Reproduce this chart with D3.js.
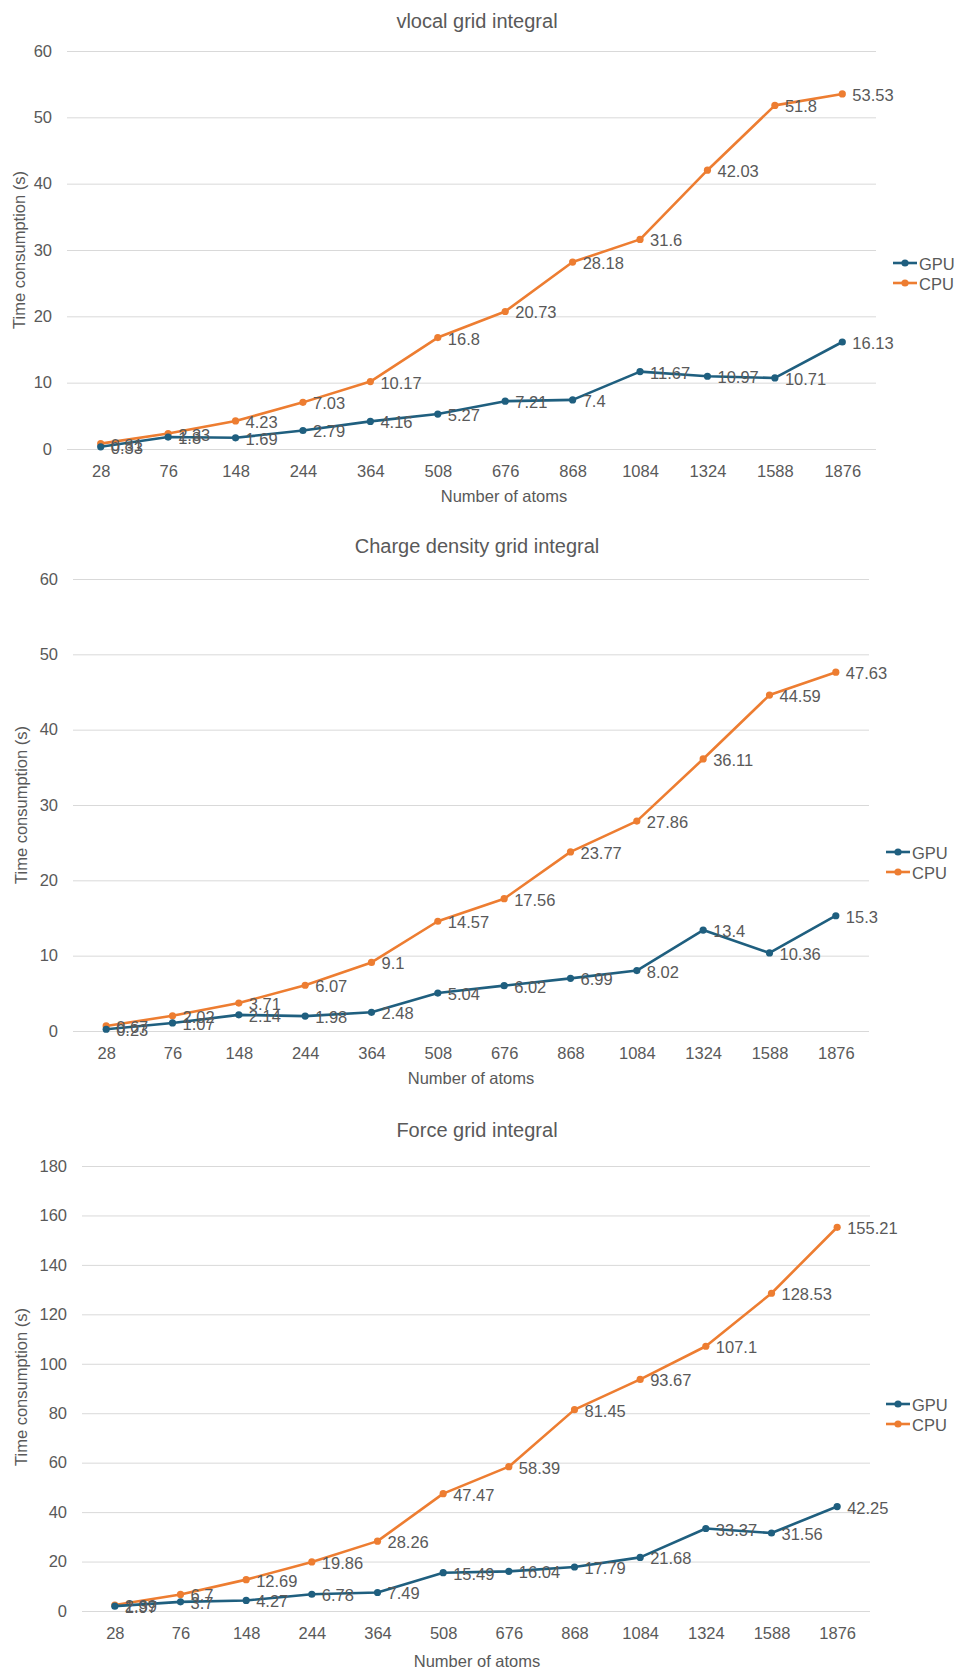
<!DOCTYPE html>
<html>
<head>
<meta charset="utf-8">
<script src="https://cdn.jsdelivr.net/npm/d3@7"></script>
<style>
  body { margin: 0; background: #fff; }
  svg { display: block; font-family: "Liberation Sans", Arial, sans-serif; }
  .axis text { fill: #595959; font-size: 16.5px; }
  .axis .domain { display: none; }
  .y.axis line { stroke: #d9d9d9; }
  .x.axis line { display: none; }
</style>
</head>
<body>
<svg id="chart" width="954" height="1673"></svg>
<script>
const atoms = ["28", "76", "148", "244", "364", "508", "676", "868", "1084", "1324", "1588", "1876"];

const vlocalGpu = [0.33, 1.8, 1.69, 2.79, 4.16, 5.27, 7.21, 7.4, 11.67, 10.97, 10.71, 16.13];
const vlocalCpu = [0.81, 2.33, 4.23, 7.03, 10.17, 16.8, 20.73, 28.18, 31.6, 42.03, 51.8, 53.53];

const chargeGpu = [0.23, 1.07, 2.14, 1.98, 2.48, 5.04, 6.02, 6.99, 8.02, 13.4, 10.36, 15.3];
const chargeCpu = [0.67, 2.02, 3.71, 6.07, 9.1, 14.57, 17.56, 23.77, 27.86, 36.11, 44.59, 47.63];

const forceGpu = [1.97, 3.7, 4.27, 6.78, 7.49, 15.49, 16.04, 17.79, 21.68, 33.37, 31.56, 42.25];
const forceCpu = [2.39, 6.7, 12.69, 19.86, 28.26, 47.47, 58.39, 81.45, 93.67, 107.1, 128.53, 155.21];

const seriesNames = ["GPU", "CPU"];
const colors = { GPU: "#1f5f7f", CPU: "#ed7d31" };

const svg = d3.select("#chart");

function drawChart(cfg) {
    const g = svg.append("g");

    const x = d3.scalePoint()
        .domain(atoms)
        .range([cfg.left, cfg.right])
        .padding(0.5);
    const y = d3.scaleLinear()
        .domain([0, cfg.yMax])
        .range([cfg.bottom, cfg.top]);

    // title
    g.append("text")
        .attr("x", 477)
        .attr("y", cfg.titleY)
        .attr("text-anchor", "middle")
        .attr("dominant-baseline", "central")
        .attr("fill", "#595959")
        .style("font-size", "20px")
        .text(cfg.title);

    // y axis with gridlines
    g.append("g")
        .attr("class", "y axis")
        .attr("transform", "translate(" + cfg.left + ",0)")
        .call(d3.axisLeft(y)
            .tickValues(d3.range(0, cfg.yMax + 1, cfg.step))
            .tickSize(-(cfg.right - cfg.left))
            .tickPadding(15))
        .call(function(a) {
            a.selectAll("line").attr("stroke", function(d) { return d === 0 ? "#bfbfbf" : "#d9d9d9"; });
        });

    // x axis
    g.append("g")
        .attr("class", "x axis")
        .attr("transform", "translate(0," + cfg.bottom + ")")
        .call(d3.axisBottom(x).tickSize(0).tickPadding(16));

    // axis titles
    g.append("text")
        .attr("x", cfg.xTitleX)
        .attr("y", cfg.xTitleY)
        .attr("text-anchor", "middle")
        .attr("dominant-baseline", "central")
        .attr("fill", "#595959")
        .style("font-size", "16.5px")
        .text("Number of atoms");
    g.append("text")
        .attr("transform", "translate(" + cfg.yTitleX + "," + cfg.yTitleY + ") rotate(-90)")
        .attr("text-anchor", "middle")
        .attr("dominant-baseline", "central")
        .attr("fill", "#595959")
        .style("font-size", "16.5px")
        .text("Time consumption (s)");

    const line = d3.line()
        .x(function(d, i) { return x(atoms[i]); })
        .y(function(d) { return y(d); });

    const data = { GPU: cfg.gpu, CPU: cfg.cpu };
    // CPU first so GPU sits on top
    ["CPU", "GPU"].forEach(function(name) {
        const values = data[name];
        g.append("path")
            .datum(values)
            .attr("fill", "none")
            .attr("stroke", colors[name])
            .attr("stroke-width", 2.6)
            .attr("stroke-linejoin", "round")
            .attr("d", line);
        g.selectAll(null)
            .data(values)
            .enter()
            .append("circle")
            .attr("cx", function(d, i) { return x(atoms[i]); })
            .attr("cy", function(d) { return y(d); })
            .attr("r", 3.6)
            .attr("fill", colors[name]);
    });

    ["CPU", "GPU"].forEach(function(name) {
        g.selectAll(null)
            .data(data[name])
            .enter()
            .append("text")
            .attr("x", function(d, i) { return x(atoms[i]) + 10; })
            .attr("y", function(d) { return y(d) + 1; })
            .attr("dominant-baseline", "central")
            .attr("fill", "#595959")
            .style("font-size", "16.5px")
            .text(function(d) { return d; });
    });

    // legend
    seriesNames.forEach(function(name, i) {
        const ly = cfg.legendY + i * 20;
        g.append("line")
            .attr("x1", cfg.legendX)
            .attr("x2", cfg.legendX + 24)
            .attr("y1", ly)
            .attr("y2", ly)
            .attr("stroke", colors[name])
            .attr("stroke-width", 2.6);
        g.append("circle")
            .attr("cx", cfg.legendX + 12)
            .attr("cy", ly)
            .attr("r", 3.6)
            .attr("fill", colors[name]);
        g.append("text")
            .attr("x", cfg.legendX + 26)
            .attr("y", ly + 1)
            .attr("dominant-baseline", "central")
            .attr("fill", "#595959")
            .style("font-size", "16.5px")
            .text(name);
    });
}

drawChart({
    title: "vlocal grid integral", titleY: 21,
    gpu: vlocalGpu, cpu: vlocalCpu, yMax: 60, step: 10,
    left: 67, right: 876, top: 51, bottom: 449,
    xTitleX: 504, xTitleY: 496, yTitleX: 19, yTitleY: 250,
    legendX: 893, legendY: 263
});

drawChart({
    title: "Charge density grid integral", titleY: 546,
    gpu: chargeGpu, cpu: chargeCpu, yMax: 60, step: 10,
    left: 73, right: 869, top: 579, bottom: 1031,
    xTitleX: 471, xTitleY: 1078, yTitleX: 21, yTitleY: 805,
    legendX: 886, legendY: 852
});

drawChart({
    title: "Force grid integral", titleY: 1130,
    gpu: forceGpu, cpu: forceCpu, yMax: 180, step: 20,
    left: 82, right: 870, top: 1166, bottom: 1611,
    xTitleX: 477, xTitleY: 1661, yTitleX: 21, yTitleY: 1387,
    legendX: 886, legendY: 1404
});
</script>
</body>
</html>
